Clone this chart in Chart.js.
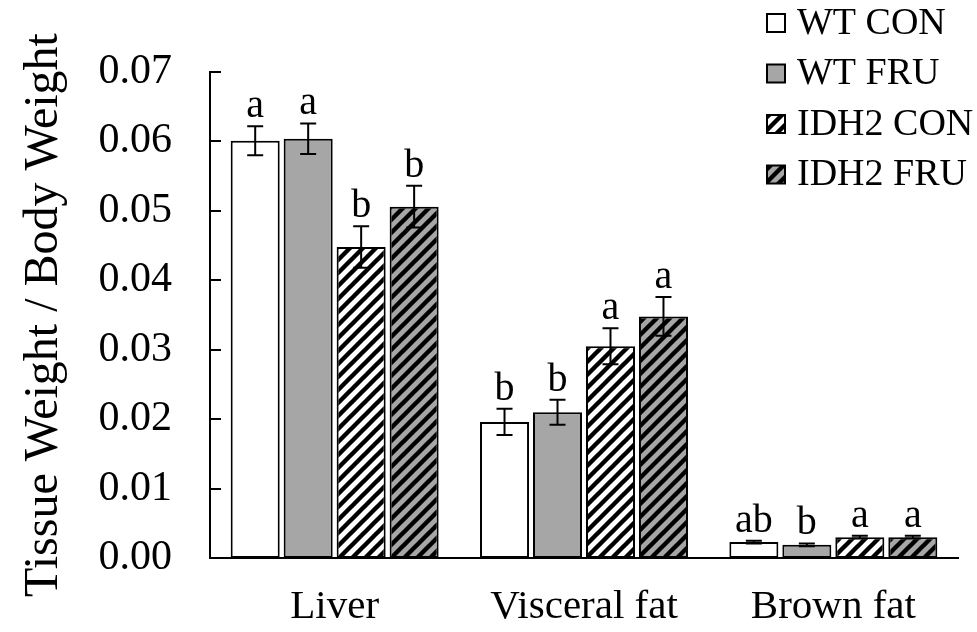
<!DOCTYPE html>
<html>
<head>
<meta charset="utf-8">
<script src="https://cdn.jsdelivr.net/npm/chart.js@4.4.1/dist/chart.umd.min.js"></script>
<style>
html, body { margin: 0; padding: 0; background: #fff; }
#wrap { width: 977px; height: 632px; }
</style>
</head>
<body>
<div id="wrap"><canvas id="mycanvas"></canvas></div>
<script>
// data
const categories = ['Liver', 'Visceral fat', 'Brown fat'];
const groups = ['WT CON', 'WT FRU', 'IDH2 CON', 'IDH2 FRU'];
const wtCon = [0.0601, 0.0196, 0.0023];
const wtFru = [0.0604, 0.0210, 0.0019];
const idhCon = [0.0448, 0.0305, 0.0030];
const idhFru = [0.0506, 0.0348, 0.0030];
const wtConErr = [0.0021, 0.0019, 0.0002];
const wtFruErr = [0.0022, 0.0018, 0.0002];
const idhConErr = [0.0030, 0.0026, 0.0002];
const idhFruErr = [0.0030, 0.0028, 0.0002];
const wtConLetters = ['a', 'b', 'ab'];
const wtFruLetters = ['a', 'b', 'b'];
const idhConLetters = ['b', 'a', 'a'];
const idhFruLetters = ['b', 'a', 'a'];
const yTicks = ['0.00', '0.01', '0.02', '0.03', '0.04', '0.05', '0.06', '0.07'];

const FONT = "'Liberation Serif', 'Times New Roman', serif";
const GRAY = '#a6a6a6';

function hatch(bg) {
	let c = document.createElement('canvas');
	c.width = 13; c.height = 13;
	let g = c.getContext('2d');
	g.fillStyle = bg;
	g.fillRect(0, 0, 13, 13);
	g.strokeStyle = '#000';
	g.lineWidth = 4.4;
	g.beginPath();
	g.moveTo(-2, 15); g.lineTo(15, -2);
	g.moveTo(-8.5, 8.5); g.lineTo(8.5, -8.5);
	g.moveTo(4.5, 21.5); g.lineTo(21.5, 4.5);
	g.stroke();
	return g.createPattern(c, 'repeat');
}

const fills = ['#ffffff', GRAY, hatch('#ffffff'), hatch(GRAY)];
const errs = [wtConErr, wtFruErr, idhConErr, idhFruErr];
const letters = [wtConLetters, wtFruLetters, idhConLetters, idhFruLetters];

const extras = {
	id: 'extras',
	afterDatasetsDraw(chart) {
		let ctx = chart.ctx;
		let y = chart.scales.y;
		ctx.save();
		ctx.strokeStyle = '#000';
		ctx.fillStyle = '#000';
		ctx.lineWidth = 2;
		ctx.font = '40px ' + FONT;
		ctx.textAlign = 'center';
		ctx.textBaseline = 'alphabetic';
		chart.data.datasets.forEach((ds, i) => {
			let meta = chart.getDatasetMeta(i);
			meta.data.forEach((bar, j) => {
				let v = ds.data[j], e = errs[i][j];
				let top = y.getPixelForValue(v + e);
				let bot = y.getPixelForValue(v - e);
				ctx.beginPath();
				ctx.moveTo(bar.x, top); ctx.lineTo(bar.x, bot);
				ctx.moveTo(bar.x - 8, top); ctx.lineTo(bar.x + 8, top);
				ctx.moveTo(bar.x - 8, bot); ctx.lineTo(bar.x + 8, bot);
				ctx.stroke();
				ctx.fillText(letters[i][j], bar.x, top - 9);
			});
		});
		// inward tick marks on the y axis
		y.ticks.forEach((t, k) => {
			let py = Math.round(y.getPixelForTick(k));
			ctx.beginPath();
			ctx.moveTo(chart.chartArea.left, py);
			ctx.lineTo(chart.chartArea.left + 11, py);
			ctx.stroke();
		});
		// legend
		ctx.font = '38px ' + FONT;
		ctx.textAlign = 'left';
		ctx.textBaseline = 'middle';
		groups.forEach((name, i) => {
			let cy = 23 + i * 50.5;
			ctx.fillStyle = fills[i];
			ctx.fillRect(767, cy - 9, 18, 18);
			ctx.lineWidth = 2;
			ctx.strokeRect(767, cy - 9, 18, 18);
			ctx.fillStyle = '#000';
			ctx.fillText(name, 797, cy + 1);
		});
		ctx.restore();
	}
};

var ctx = document.getElementById('mycanvas').getContext('2d');
var myChart = new Chart(ctx, {
	type: 'bar',
	data: {
		labels: categories,
		datasets: [
			{ label: groups[0], data: wtCon, backgroundColor: fills[0] },
			{ label: groups[1], data: wtFru, backgroundColor: fills[1] },
			{ label: groups[2], data: idhCon, backgroundColor: fills[2] },
			{ label: groups[3], data: idhFru, backgroundColor: fills[3] }
		].map(d => Object.assign(d, {
			borderColor: '#000',
			borderWidth: 2,
			borderSkipped: false,
			categoryPercentage: 0.85,
			barPercentage: 0.925
		}))
	},
	options: {
		responsive: true,
		maintainAspectRatio: false,
		animation: false,
		layout: { padding: { top: 72, right: 19, left: 0, bottom: 0 } },
		plugins: {
			legend: { display: false },
			tooltip: { enabled: false }
		},
		scales: {
			x: {
				grid: { display: false, drawTicks: false },
				border: { display: true, color: '#000', width: 2 },
				ticks: { color: '#000', padding: 25, font: { family: FONT, size: 41 } },
				afterFit(s) { s.height = 74; }
			},
			y: {
				min: 0,
				max: 0.07,
				grid: { display: false, drawTicks: false },
				border: { display: true, color: '#000', width: 2 },
				ticks: {
					stepSize: 0.01,
					color: '#000',
					padding: 38,
					font: { family: FONT, size: 42 },
					callback: (v, i) => yTicks[i]
				},
				title: {
					display: true,
					text: 'Tissue Weight / Body Weight',
					color: '#000',
					font: { family: FONT, size: 48 },
					padding: { top: 16, bottom: 0 }
				},
				afterFit(s) { s.width = 210; }
			}
		}
	},
	plugins: [extras]
});
</script>
</body>
</html>
